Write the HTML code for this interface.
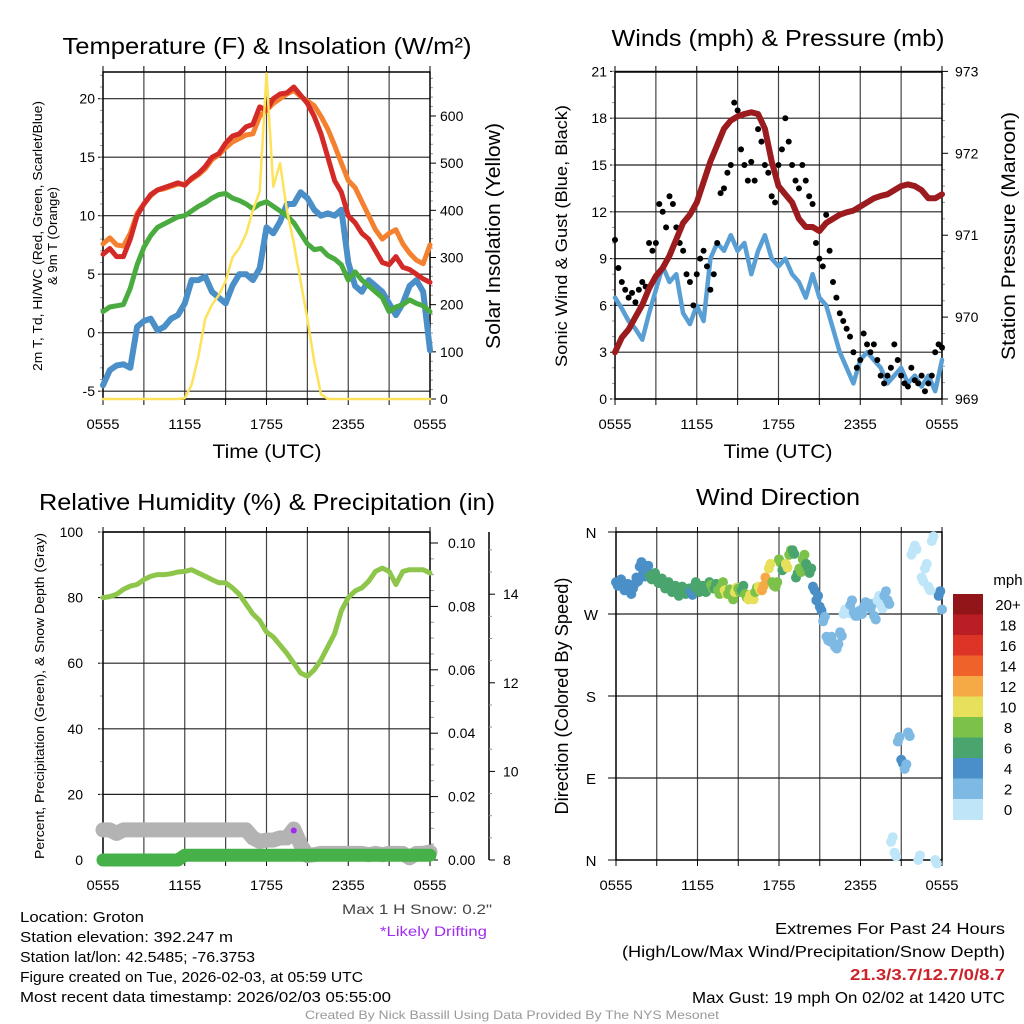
<!DOCTYPE html>
<html><head><meta charset="utf-8"><style>
html,body{margin:0;padding:0;background:#fff;}
svg{display:block;font-family:"Liberation Sans",sans-serif;}
</style></head><body>
<svg id="fig" width="1024" height="1024" viewBox="0 0 1024 1024"></svg>
<script>
// ---------- DATA ----------
const timeLabels = ["0555","1155","1755","2355","0555"];
// 30-minute series, 0555 -> 0555 next day
const tempT = [6.7,7.2,6.5,6.5,8,10,11,11.8,12.2,12.4,12.6,12.8,12.6,13.2,13.6,14.2,15.0,15.3,16.2,16.8,17.0,17.6,17.8,19.3,19.0,20.0,20.4,20.5,21.0,20.3,19.6,18.5,17.0,15.0,13.0,12.0,10.0,9.4,8.5,8.0,7.0,6.0,5.8,6.5,5.6,5.4,5.0,4.6,4.3];
const temp9m = [7.6,8.1,7.5,7.4,8.5,10.2,11,11.7,12.2,12.3,12.5,12.7,12.7,13.1,13.5,14,14.8,15.2,15.8,16.3,16.6,16.9,17.0,18.5,19.0,19.6,20.0,20.4,20.7,20.2,19.8,19.4,18.5,17.4,16.0,14.5,13.0,12.4,11.2,10,8.8,8.0,8.5,8.8,7.6,6.8,6.2,5.9,7.5];
const dewpoint = [1.8,2.2,2.3,2.4,3.8,5.8,7.3,8.3,9.0,9.3,9.6,9.9,10.0,10.4,10.8,11.1,11.5,11.8,11.9,11.5,11.3,11.0,10.6,11.0,11.2,10.8,10.4,10.0,9.4,8.5,7.6,7.1,7.2,6.6,6.3,5.8,4.5,5.2,4.5,4.0,3.5,3.0,1.8,2.2,2.4,2.8,2.5,2.3,1.8];
const windChill = [-4.5,-3.2,-2.8,-2.7,-3.0,0.5,1.0,1.2,0.2,0.5,1.2,1.5,2.5,4.5,4.5,4.8,3.5,3.0,2.5,4.0,5.0,5.0,4.5,5.5,9.0,8.5,9.5,11.0,11.0,12.0,11.5,10.5,10.0,10.2,10.0,10.5,6.0,4.0,3.5,4.5,4.0,3.5,2.5,1.5,2.5,4.0,4.5,3.5,-1.5];
const solar = [0,0,0,0,0,0,0,0,0,0,0,0,2,30,90,170,200,220,250,300,320,350,400,440,690,450,500,400,330,250,170,80,10,0,0,0,0,0,0,0,0,0,0,0,0,0,0,0,0];
const windSpeed = [6.5,5.8,5.0,4.5,3.8,5.5,7.0,8.5,7.5,8.0,5.5,4.8,6.0,5.0,9.0,10.0,9.5,10.5,9.5,10.0,8.0,9.5,10.5,9.0,8.5,9.0,8.0,7.5,6.5,8.0,6.5,6.0,4.5,3.0,2.0,1.0,2.5,3.0,2.5,2.0,1.0,1.5,2.0,1.0,1.5,0.8,1.5,0.5,2.5];
const pressure = [969.57,969.75,969.85,970.0,970.15,970.35,970.5,970.6,970.75,970.95,971.15,971.25,971.4,971.65,971.9,972.1,972.3,972.4,972.45,972.48,972.5,972.48,972.3,971.9,971.6,971.5,971.4,971.2,971.1,971.1,971.05,971.15,971.2,971.25,971.28,971.3,971.35,971.4,971.45,971.48,971.5,971.55,971.6,971.62,971.6,971.55,971.45,971.45,971.5];
const relHum = [80,80.3,81,82.5,83.5,84,85.5,86.5,87,87,87.3,87.8,88,88.5,87.5,86.5,85.5,84.5,84.5,83,81,78,75,73,69.5,68,65.5,63,60,57,56,58,61,65,69,76,80,82,83,85,88,89,88,84,88,88.5,88.5,88.5,87.5];
const precip = [0,0,0,0,0,0,0,0,0,0,0,0,0.0015,0.0015,0.0015,0.0015,0.0015,0.0015,0.0015,0.0015,0.0015,0.0015,0.0015,0.0015,0.0015,0.0015,0.0015,0.0015,0.0015,0.0015,0.0015,0.0015,0.0015,0.0015,0.0015,0.0015,0.0015,0.0015,0.0015,0.0015,0.0015,0.0015,0.0015,0.0015,0.0015,0.0015,0.0015,0.0015,0.0015];
const snowDepth = [8.68,8.68,8.6,8.68,8.68,8.68,8.68,8.68,8.68,8.68,8.68,8.68,8.68,8.68,8.68,8.68,8.68,8.68,8.68,8.68,8.68,8.68,8.5,8.42,8.45,8.45,8.5,8.5,8.7,8.35,8.1,8.12,8.15,8.15,8.15,8.15,8.15,8.15,8.15,8.12,8.15,8.12,8.15,8.15,8.15,8.05,8.15,8.15,8.18];
// 15-minute series
const gusts = [10.2,8.4,7.5,7.0,6.5,6.8,6.2,7.0, 7.5,7.2,10.0,9.5,10.0,12.5,12.0,11.0, 13.0,12.5,11.0,10.0,9.5,8.0,7.5,6.0, 8.0,9.0,9.5,8.5,7.0,8.0,10.0,13.2, 13.5,14.5,15.0,19.0,18.5,16.0,15.0,14.0, 15.2,14.0,17.3,16.5,15.0,14.5,13.0,12.6, 15.0,16.0,18.0,16.5,15.0,14.0,13.5,15.0, 14.0,13.0,12.5,10.0,9.0,8.5,11.8,9.5, 7.5,6.5,5.5,5.0,4.5,4.0,3.0,2.0, 2.5,4.2,3.5,3.0,3.5,2.5,1.5,1.0, 1.5,2.0,3.5,2.5,1.5,1.0,0.8,2.0, 1.2,1.0,1.5,0.5,1.0,1.5,3.0,3.5,3.3];
const windDir = [305,303,300,298,296,298,310,322, 315,318,312,310,308,304,302,300, 298,296,294,295,296,293,295,300, 298,296,298,300,302,298,296,300, 296,292,290,294,298,296,292,286, 290,294,300,296,310,320,305,300, 330,318,325,335,340,310,320,330, 325,315,300,285,278,262,245,240, 238,232,250,270,275,280,272,268, 274,278,282,276,268,285,280,290, 285,20,8,130,110,100,140,335, 345,0,310,320,300,350,0,290,275];
const dirSpeed = [4,4,4,4,4,4,4,4, 4,5,6,7,7,6,6,6, 6,6,7,7,6,6,5,6, 6,7,6,7,8,7,8,9, 10,9,9,10,8,7,9,10, 10,9,11,12,13,10,9,8, 8,7,10,8,7,6,8,9, 7,6,5,4,4,3,2,3, 3,2,2,1,1,2,3,2, 2,3,3,2,2,1,1,2, 2,1,1,3,4,2,3,1, 1,1,1,1,1,1,1,4,3];
const speedBins = ["0","2","4","6","8","10","12","14","16","18","20+"];
const binColors = ["#bfe6f8","#7db9e2","#4a8fc7","#49a56d","#7cc24a","#e6e05a","#f6aa45","#ef6229","#dc3427","#bb1d24","#921619"];

// ---------- HELPERS ----------
const NS="http://www.w3.org/2000/svg";
const svg=document.getElementById('fig');
function mk(tag,attrs,name,parent){
  const el=document.createElementNS(NS,tag);
  for(const k in attrs) el.setAttribute(k,attrs[k]);
  
  
  (parent||svg).appendChild(el);
  return el;
}
function txt(x,y,s,size,name,opts){
  opts=opts||{};
  const a={x:x,y:y,'font-size':size,fill:opts.fill||'#000','text-anchor':opts.anchor||'middle'};
  if(opts.len){a.textLength=opts.len;a.lengthAdjust='spacingAndGlyphs';}
  if(opts.weight)a['font-weight']=opts.weight;
  if(opts.rot)a.transform='rotate('+opts.rot+' '+x+' '+y+')';
  const t=mk('text',a,name);
  t.textContent=s;
  return t;
}
function line(x1,y1,x2,y2,stroke,w,name){return mk('line',{x1:x1,y1:y1,x2:x2,y2:y2,stroke:stroke,'stroke-width':w},name);}
function poly(arr,xf,yf,color,w,name){
  const n=arr.length;
  const pts=arr.map((v,i)=>xf(i/(n-1)*24).toFixed(1)+','+yf(v).toFixed(1)).join(' ');
  return mk('polyline',{points:pts,fill:'none',stroke:color,'stroke-width':w,'stroke-linejoin':'round','stroke-linecap':'round'},name);
}
function timeAxis(L,R,B,prefix){
  const xs=h=>L+(R-L)*h/24;
  for(let h=3;h<24;h+=3){
    line(xs(h),B-327,xs(h),B,'#444',1.2,prefix+'-vgrid');
  }
  for(let h=0;h<=24;h+=3){ line(xs(h),B-328-5,xs(h),B-327,'#000',1,prefix+'-top-tick'); line(xs(h),B,xs(h),B+6,'#000',1,prefix+'-x-tick'); }
  timeLabels.forEach((s,i)=>txt(xs(i*6),B+30,s,14,prefix+'-x-tick-label',{len:33}));
  return xs;
}

// ---------- PANEL 1: TEMPERATURE ----------
(function(){
  const L=103,R=430,T=72,B=399;
  const ty=v=>98.7+(20-v)*11.7;
  const sy=v=>399-v*0.4717;
  const xs=timeAxis(L,R,B,'temp');
  for(let v=-5;v<=20;v+=5){ line(L,ty(v),R,ty(v),'#222',1.2,'temp-hgrid'); line(L-5,ty(v),L,ty(v),'#000',1,'temp-y-tick'); txt(L-8,ty(v)+5,String(v),14,'temp-y-tick-label',{anchor:'end'}); }
  for(let v=-5;v<=22;v++){ line(L-3,ty(v),L,ty(v),'#999',1,'temp-y-minor-tick'); }
  for(let v=0;v<=690;v+=20){ line(R,sy(v),R+(v%100===0?6:3),sy(v),v%100===0?'#000':'#999',1,'solar-y-tick'); }
  for(let v=0;v<=600;v+=100){ txt(R+10,sy(v)+5,String(v),14,'solar-y-tick-label',{anchor:'start'}); }
  mk('rect',{x:L,y:T,width:R-L,height:B-T,fill:'none',stroke:'#000','stroke-width':1.5},'temp-plot-frame');
  poly(windChill,xs,ty,'#4a8fc7',6,'windchill-line');
  poly(dewpoint,xs,ty,'#4aab3f',5,'dewpoint-line');
  poly(temp9m,xs,ty,'#f4812f',5,'temp-9m-line');
  poly(tempT,xs,ty,'#d42a27',5,'temp-2m-line');
  poly(solar,xs,sy,'#fde25a',2.5,'solar-line');
  txt(267,54,'Temperature (F) & Insolation (W/m\u00B2)',23,'temp-title',{len:409});
  txt(267,458,'Time (UTC)',19,'temp-x-axis-title',{len:109});
  txt(500,236,'Solar Insolation (Yellow)',20,'solar-y-axis-title',{rot:-90,len:226});
  txt(42,236,'2m T, Td, HI/WC (Red, Green, Scarlet/Blue)',12.5,'temp-y-axis-title',{rot:-90,len:270});
  txt(57,236,'& 9m T (Orange)',12.5,'temp-y-axis-title-line2',{rot:-90,len:98});
})();

// ---------- PANEL 2: WINDS ----------
(function(){
  const L=615,R=942,T=72,B=399;
  const wy=v=>399-v*15.6;
  const py=v=>399-(v-969)*81.9;
  const xs=timeAxis(L,R,B,'wind');
  for(let v=0;v<=21;v+=3){ line(L,wy(v),R,wy(v),'#222',1.2,'wind-hgrid'); line(L-5,wy(v),L,wy(v),'#000',1,'wind-y-tick'); txt(L-8,wy(v)+5,String(v),14,'wind-y-tick-label',{anchor:'end'}); }
  for(let v=0;v<=21;v++){ line(L-3,wy(v),L,wy(v),'#999',1,'wind-y-minor-tick'); }
  for(let v=969;v<=973.001;v+=0.2){ const maj=Math.abs(v-Math.round(v))<0.01; line(R,py(v),R+(maj?6:3),py(v),maj?'#000':'#999',1,'pressure-y-tick'); }
  for(let v=969;v<=973;v++){ txt(R+13,py(v)+5,String(v),14,'pressure-y-tick-label',{anchor:'start'}); }
  mk('rect',{x:L,y:T,width:R-L,height:B-T,fill:'none',stroke:'#000','stroke-width':1.5},'wind-plot-frame');
  poly(windSpeed,xs,wy,'#5a9fd4',4.5,'sonic-wind-line');
  const n=gusts.length;
  gusts.forEach((g,i)=>{ mk('circle',{cx:xs(i/(n-1)*24),cy:wy(g),r:3,fill:'#000'},'gust-point'); });
  poly(pressure,xs,py,'#9b1b1e',6,'pressure-line');
  txt(778,46,'Winds (mph) & Pressure (mb)',23,'wind-title',{len:333});
  txt(778,458,'Time (UTC)',19,'wind-x-axis-title',{len:109});
  txt(567,236,'Sonic Wind & Gust (Blue, Black)',17,'wind-y-axis-title',{rot:-90,len:262});
  txt(1015,236,'Station Pressure (Maroon)',19,'pressure-y-axis-title',{rot:-90,len:248});
})();

// ---------- PANEL 3: RH ----------
(function(){
  const L=103,R=430,T=532,B=860;
  const ry=v=>860-v*3.28;
  const qy=v=>860-v*3170;
  const sdy=v=>860-(v-8)*44.3;
  const xs=timeAxis(L,R,B,'rh');
  for(let v=0;v<=100;v+=20){ if(v>0) line(L,ry(v),R,ry(v),'#222',1.2,'rh-hgrid'); line(L-5,ry(v),L,ry(v),'#000',1,'rh-y-tick'); txt(L-20,ry(v)+5,String(v),14,'rh-y-tick-label',{anchor:'end'}); }
  for(let v=0;v<=100;v+=10){ line(L-3,ry(v),L,ry(v),'#999',1,'rh-y-minor-tick'); }
  for(let v=0;v<=0.1001;v+=0.005){ const maj=Math.round(v*1000)%20===0; line(R,qy(v),R+(maj?8:4),qy(v),maj?'#000':'#999',1,'precip-y-tick'); }
  for(let k=0;k<=5;k++){ txt(R+18,qy(k*0.02)+5,(k*0.02).toFixed(2),14,'precip-y-tick-label',{anchor:'start'}); }
  line(489,532,489,860,'#000',1.5,'snow-axis-line');
  for(let v=8;v<=15.3;v+=0.5){ const maj=Math.abs(v-Math.round(v/2)*2)<0.01; line(489,sdy(v),489+(maj?6:3),sdy(v),maj?'#000':'#999',1,'snow-y-tick'); }
  for(let v=8;v<=14;v+=2){ txt(503,sdy(v)+5,String(v),14,'snow-y-tick-label',{anchor:'start'}); }
  mk('rect',{x:L,y:T,width:R-L,height:B-T,fill:'none',stroke:'#000','stroke-width':1.5},'rh-plot-frame');
  poly(snowDepth,xs,sdy,'#b3b3b3',15,'snow-depth-line');
  poly(precip,xs,qy,'#46b049',13,'precip-line');
  poly(relHum,xs,ry,'#8dc64a',5,'rh-line');
  mk('circle',{cx:xs(14),cy:ry(9),r:3,fill:'#a02cf0'},'drifting-marker');
  txt(267,510,'Relative Humidity (%) & Precipitation (in)',23,'rh-title',{len:456});
  txt(44,696,'Percent, Precipitation (Green), & Snow Depth (Gray)',13,'rh-y-axis-title',{rot:-90,len:326});
  txt(492,914,'Max 1 H Snow: 0.2"',14,'max-snow-note',{anchor:'end',fill:'#444',len:150});
  txt(487,936,'*Likely Drifting',14,'drifting-note',{anchor:'end',fill:'#a02cf0',len:107});
})();

// ---------- PANEL 4: WIND DIRECTION ----------
(function(){
  const L=616,R=942,T=532,B=860;
  const dy=v=>860-v*328/360;
  const xs=timeAxis(L,R,B,'dir');
  const labs=['N','E','S','W','N'];
  for(let k=0;k<=4;k++){ const v=k*90; if(k>0&&k<4) line(L,dy(v),R,dy(v),'#222',1.2,'dir-hgrid'); line(L-8,dy(v),L,dy(v),'#000',1,'dir-y-tick'); txt(L-25,dy(v)+6,labs[k],15,'dir-y-tick-label'); }
  mk('rect',{x:L,y:T,width:R-L,height:B-T,fill:'none',stroke:'#000','stroke-width':1.5},'dir-plot-frame');
  const n=windDir.length;
  windDir.forEach((d,i)=>{
    const b=Math.min(10,Math.floor(dirSpeed[i]/2));
    mk('circle',{cx:xs(i/(n-1)*24),cy:dy(d),r:5,fill:binColors[b]},'direction-point');
    if(i<n-1){
      mk('circle',{cx:xs((i+0.5)/(n-1)*24),cy:dy(d+(i%2?5:-4)),r:5,fill:binColors[b]},'direction-point');
    }
  });
  const cbT=594,cbH=20.5;
  for(let k=0;k<11;k++){
    const idx=10-k;
    mk('rect',{x:953,y:cbT+k*cbH,width:30,height:cbH+0.5,fill:binColors[idx]},'colorbar-box-'+speedBins[idx]);
    txt(1008,cbT+k*cbH+16,speedBins[idx],15,'colorbar-label');
  }
  txt(1008,585,'mph',15,'colorbar-title');
  txt(778,505,'Wind Direction',23,'dir-title',{len:164});
  txt(568,696,'Direction (Colored By Speed)',18,'dir-y-axis-title',{rot:-90,len:237});
})();

// ---------- FOOTER TEXT ----------
const info=["Location: Groton","Station elevation: 392.247 m","Station lat/lon: 42.5485; -76.3753","Figure created on Tue, 2026-02-03, at 05:59 UTC","Most recent data timestamp: 2026/02/03 05:55:00"];
const infoLen=[124,213,235,343,371];
info.forEach((s,i)=>txt(20,922+i*20,s,15,'station-info-line',{anchor:'start',len:infoLen[i]}));
txt(1005,934,'Extremes For Past 24 Hours',16,'extremes-title',{anchor:'end',len:230});
txt(1005,957,'(High/Low/Max Wind/Precipitation/Snow Depth)',16,'extremes-legend',{anchor:'end',len:383});
txt(1005,980,'21.3/3.7/12.7/0/8.7',16,'extremes-values',{anchor:'end',fill:'#cc2229',weight:'bold',len:155});
txt(1005,1003,'Max Gust: 19 mph On 02/02 at 1420 UTC',16,'max-gust-note',{anchor:'end',len:313});
txt(512,1019,'Created By Nick Bassill Using Data Provided By The NYS Mesonet',12,'credit-note',{fill:'#999',len:414});
</script>
</body></html>
